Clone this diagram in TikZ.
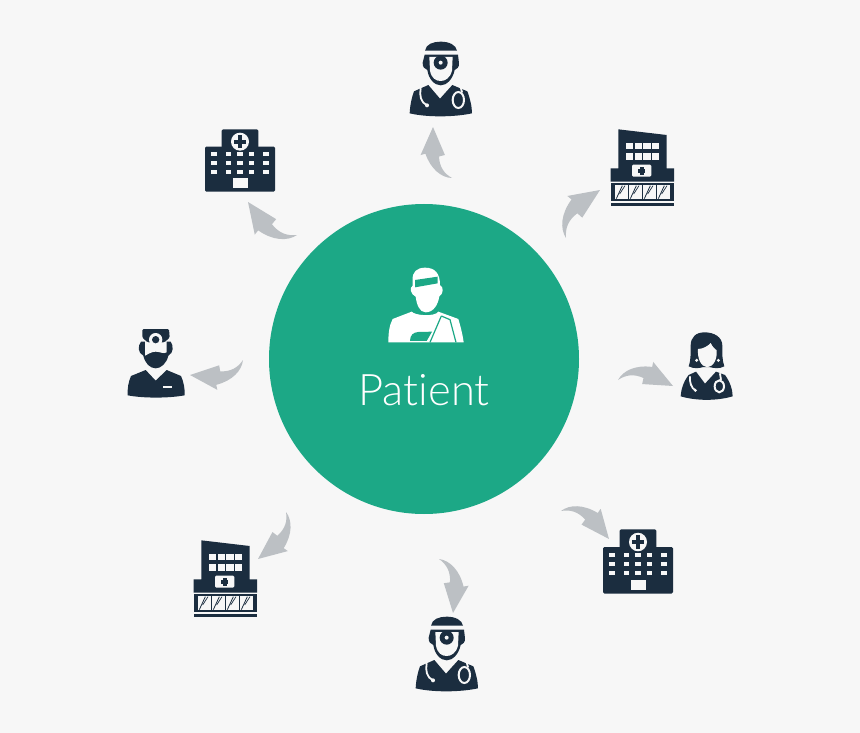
\documentclass[tikz,border=0pt]{standalone}
\usepackage{fontspec}
\setmainfont[Ligatures=NoCommon]{Lato Light}
\usetikzlibrary{calc}
\definecolor{bgc}{HTML}{F7F7F7}
\definecolor{navy}{HTML}{1B2D3F}
\definecolor{teal1}{HTML}{1CA886}
\definecolor{arrowc}{HTML}{BCC0C4}
\tikzset{
  x=1pt,y=-1pt,
  ink/.style={fill=navy,draw=none},
  gap/.style={fill=bgc,draw=none},
  tube/.style={draw=bgc,line width=1.8pt,line cap=round,fill=none},
  flowshape/.pic={
    \fill[arrowc] (0,0) .. controls (4,-10) and (16,-17) .. (32.4,-16.6)
      -- (32.8,-21.7) -- (55,0) -- (24.3,1.4) -- (25,-4.7)
      .. controls (15,-8) and (7,-6) .. (0,0) -- cycle;
  },
  doctor/.pic={
    % cap
    \fill[ink] (105,62) .. controls (108,42) and (130,35) .. (152,35)
       .. controls (178,35) and (198,45) .. (201,62) -- cycle;
    % head
    \fill[ink] (104,74) -- (204,74) -- (207,100) .. controls (208,112) and (200,118) .. (194,120)
       .. controls (188,148) and (170,166) .. (152,166)
       .. controls (134,166) and (116,148) .. (112,120)
       .. controls (104,118) and (97,110) .. (98,98) -- cycle;
    \fill[gap] (118,81) -- (188,81) -- (186,122)
       .. controls (180,145) and (165,153) .. (152,153)
       .. controls (138,153) and (124,145) .. (120,122) -- cycle;
    \fill[ink] (152,98) circle (21);
    \fill[gap] (152,98) circle (6);
    % body
    \fill[ink] (115,165) -- (150,206) -- (187,165) -- (232,184)
       .. controls (240,205) and (246,230) .. (246,250)
       .. controls (190,262) and (110,262) .. (59,250)
       .. controls (60,225) and (66,200) .. (72,184) -- cycle;
    % stethoscope
    \draw[tube] (92,176) .. controls (88,195) and (92,218) .. (111,226);
    \fill[bgc] (111,226) circle (6);
    \draw[draw=bgc,line width=2pt,fill=none] (205,210) ellipse (17 and 24);
    \draw[tube] (212,172) -- (216,186);
  },
  hospital/.pic={
    \fill[ink,rounded corners=1.3pt] (80,90) -- (80,28) -- (190,28) -- (190,90) -- cycle;
    \fill[ink,rounded corners=1.3pt] (30,215) -- (30,80) -- (240,80) -- (240,215) -- cycle;
    \fill[bgc] (135,65) circle (27);
    \fill[ink] (129,46) rectangle (141,84);
    \fill[ink] (116,59) rectangle (154,71);
    \foreach \yy in {103,129,155}
      \foreach \xx in {57,100,135,170,213}
        \fill[bgc] (\xx-8,\yy-6) rectangle (\xx+8,\yy+6);
    \fill[bgc] (113,175) rectangle (160,205);
  },
  clinic/.pic={
    \fill[ink] (70,28) -- (215,45) -- (215,145) -- (237,145) -- (237,185) -- (47,185) -- (47,145) -- (70,145) -- cycle;
    \foreach \yy in {78,110}
      \foreach \xx in {103,130,156,182}
        \fill[bgc] (\xx-11,\yy-10) rectangle (\xx+11,\yy+10);
    \fill[bgc,rounded corners=1.3pt] (111,134) rectangle (169,170);
    \fill[ink] (134,142) rectangle (146,164);
    \fill[ink] (129,147) rectangle (151,159);
    \fill[ink] (47,190) rectangle (237,243);
    \foreach \xx in {60,102,144,186}{
      \fill[bgc] (\xx,195) rectangle (\xx+38,238);
      \draw[navy,line width=0.8pt] (\xx+4,236) -- (\xx+22,197);
      \draw[navy,line width=0.7pt] (\xx+14,222) -- (\xx+30,197);
    }
    \fill[ink] (47,250) rectangle (237,257);
  },
  surgeon/.pic={
    % head and beard
    \fill[ink] (78,80) -- (167,80) .. controls (176,92) and (176,114) .. (160,122)
      .. controls (155,145) and (138,160) .. (122,160)
      .. controls (105,160) and (90,145) .. (85,122)
      .. controls (68,114) and (68,92) .. (78,80) -- cycle;
    \fill[gap] (90,70) -- (155,70) -- (155,112) .. controls (145,118) and (136,110) .. (122,110)
      .. controls (108,110) and (100,118) .. (90,122) -- cycle;
    % cap with head mirror
    \fill[ink,rounded corners=1.3pt] (82,42) -- (162,42) -- (164,68) -- (148,82) -- (98,82) -- (82,68) -- cycle;
    \fill[gap] (122,74) circle (20);
    \fill[ink] (122,74) circle (11);
    % body
    \fill[ink] (92,165) -- (122,197) -- (155,165) -- (198,183)
      .. controls (206,200) and (210,222) .. (209,241)
      .. controls (160,250) and (85,250) .. (38,241)
      .. controls (37,222) and (40,200) .. (48,183) -- cycle;
    \fill[bgc] (145,213) rectangle (172,220);
  },
  woman/.pic={
    \fill[ink] (284,22) .. controls (258,22) and (242,36) .. (242,62)
      .. controls (242,90) and (242,108) .. (236,124)
      .. controls (252,132) and (268,130) .. (280,126) -- (298,126)
      .. controls (312,130) and (328,132) .. (343,124)
      .. controls (336,105) and (337,85) .. (337,62)
      .. controls (337,36) and (312,22) .. (284,22) -- cycle;
    \fill[gap] (264,72) .. controls (280,72) and (295,62) .. (302,54)
      .. controls (308,66) and (314,72) .. (320,76)
      .. controls (322,100) and (312,125) .. (292,127)
      .. controls (272,125) and (262,100) .. (264,72) -- cycle;
    \fill[bgc] (260,106) circle (5);
    \fill[bgc] (325,106) circle (5);
    \fill[ink] (258,140) -- (285,176) -- (318,140) -- (345,150)
      .. controls (360,170) and (368,195) .. (368,214)
      .. controls (320,228) and (260,228) .. (212,214)
      .. controls (213,195) and (220,170) .. (236,150) -- cycle;
    \draw[tube] (240,155) .. controls (238,170) and (244,190) .. (256,196);
    \fill[bgc] (256,196) circle (5);
    \draw[draw=bgc,line width=2pt,fill=none] (328,184) ellipse (14 and 18);
    \draw[tube] (330,146) -- (333,164);
  },
  patientfig/.pic={
    \fill[white] (128,75) .. controls (126,52) and (140,38) .. (165,38)
      .. controls (195,38) and (210,55) .. (210,90)
      .. controls (222,95) and (220,118) .. (208,124)
      .. controls (204,150) and (190,172) .. (167,172)
      .. controls (148,172) and (140,148) .. (137,125)
      .. controls (122,118) and (117,98) .. (128,92) -- cycle;
    \fill[teal1] (135,75) -- (203,65) -- (203,85) -- (135,97) -- cycle;
    \fill[white] (55,262) .. controls (55,235) and (58,210) .. (68,192)
      -- (125,170) .. controls (135,182) and (195,186) .. (205,170)
      -- (265,192) .. controls (272,215) and (278,240) .. (281,262) -- cycle;
    \fill[teal1] (120,258) .. controls (120,240) and (130,232) .. (145,231)
      -- (186,230) -- (170,258) -- cycle;
    \draw[teal1,line width=1.2pt] (214,183) -- (180,262);
    \draw[teal1,line width=1.2pt] (214,183) -- (240,194) -- (258,262);
  }
}
\newcommand{\flowarrow}[2]{%
  \path let \p1=($(#2)-(#1)$), \n1={atan2(\y1,\x1)}, \n2={veclen(\x1,\y1)} in
    (#1) pic[rotate=\n1,scale={\n2/55}] {flowshape};}
\begin{document}
\begin{tikzpicture}
\fill[bgc] (0,0) rectangle (860,733);
\useasboundingbox (0,0) rectangle (860,733);
\node[circle,fill=teal1,minimum size=310pt,inner sep=0pt] (hub) at (424,359) {};
\pic[scale=1/3] at (370,255) {patientfig};
\node[text=white,font=\fontsize{43.5}{50}\selectfont,inner sep=0pt] (label) at (424,390) {Patient};

\pic[scale=1/3] (doctorTop) at (390,30) {doctor};
\pic[scale=1/3] (doctorBottom) at (396,605) {doctor};
\pic[scale=1/3] (hospitalA) at (195,120) {hospital};
\pic[xscale=1/3,yscale=1.03/3] (hospitalB) at (593,519.7) {hospital};
\pic[scale=1/3] (clinicA) at (595,120) {clinic};
\pic[scale=1/3] (clinicB) at (178,531) {clinic};
\pic[scale=1/3] (surgeonA) at (115,315) {surgeon};
\pic[scale=1/3] (womanA) at (610,325) {woman};

\coordinate (t1) at (452,178); \coordinate (h1) at (433,127);
\coordinate (t2) at (566,238); \coordinate (h2) at (600,190);
\coordinate (t3) at (618,380); \coordinate (h3) at (673,386);
\coordinate (t4) at (561,511); \coordinate (h4) at (609,539);
\coordinate (t5) at (439,559); \coordinate (h5) at (453,613);
\coordinate (t6) at (286,512); \coordinate (h6) at (258,559);
\coordinate (t7) at (243,360); \coordinate (h7) at (190,375);
\coordinate (t8) at (297,235); \coordinate (h8) at (248,202);
\flowarrow{t1}{h1}
\flowarrow{t2}{h2}
\flowarrow{t3}{h3}
\flowarrow{t4}{h4}
\flowarrow{t5}{h5}
\flowarrow{t6}{h6}
\flowarrow{t7}{h7}
\flowarrow{t8}{h8}
\end{tikzpicture}
\end{document}
